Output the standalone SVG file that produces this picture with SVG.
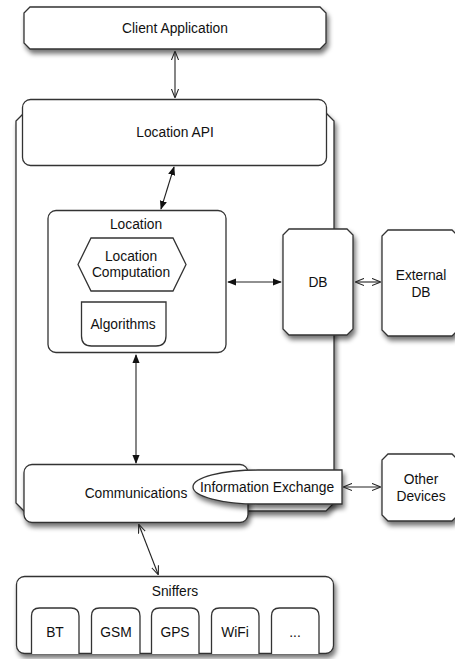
<svg xmlns="http://www.w3.org/2000/svg" width="455" height="659" viewBox="0 0 455 659">
<style>
.s{fill:#fff;stroke:#333;stroke-width:1.3}
.t{font-family:"Liberation Sans",Arial,sans-serif;font-size:13.8px;fill:#111;text-anchor:middle}
.c{fill:none;stroke:#222;stroke-width:1.1}
</style>
<defs>
<filter id="sh" x="-20%" y="-20%" width="140%" height="150%">
<feGaussianBlur in="SourceAlpha" stdDeviation="2.5"/>
<feOffset dx="2" dy="4" result="b"/>
<feComponentTransfer><feFuncA type="linear" slope="0.55"/></feComponentTransfer>
<feMerge><feMergeNode/><feMergeNode in="SourceGraphic"/></feMerge>
</filter>
<marker id="fa" viewBox="0 0 10 10" refX="9" refY="5" markerWidth="9" markerHeight="9" orient="auto-start-reverse" markerUnits="userSpaceOnUse">
<path d="M0,1 L10,5 L0,9 Z" fill="#111"/>
</marker>
<marker id="oa" viewBox="0 0 10 10" refX="9" refY="5" markerWidth="9" markerHeight="9" orient="auto-start-reverse" markerUnits="userSpaceOnUse">
<path d="M0,1 L10,5 L0,9" fill="none" stroke="#222" stroke-width="1.2"/>
</marker>
</defs>

<g id="client-application">
<path class="s" filter="url(#sh)" d="M30,7 H320 L326,13 V43 L320,49 H30 L24,43 V13 Z"/>
<text class="t" x="175" y="33">Client Application</text>
</g>

<g id="container">
<path class="s" filter="url(#sh)" d="M24,113 H326 L334,121 V503 L326,511 H24 L16,503 V121 Z"/>
</g>

<g id="location-api">
<rect class="s" x="22.5" y="99.5" width="304" height="66" rx="8"/>
<text class="t" x="175" y="137">Location API</text>
</g>

<g id="location">
<rect class="s" x="48" y="210.5" width="178" height="142" rx="8"/>
<text class="t" x="136" y="229">Location</text>
</g>

<g id="location-computation">
<path class="s" d="M91,238 H173 L186,264.5 L173,291 H91 L78,264.5 Z"/>
<text class="t" x="131" y="261">Location</text>
<text class="t" x="131" y="277">Computation</text>
</g>

<g id="algorithms">
<path class="s" d="M81.5,302 H166 V336 Q166,346 156,346 H91.5 Q81.5,346 81.5,336 Z"/>
<text class="t" x="123" y="329">Algorithms</text>
</g>

<g id="db">
<path class="s" filter="url(#sh)" d="M289,229 H347 L353,235 V329 L347,335 H289 L283,329 V235 Z"/>
<text class="t" x="318" y="287">DB</text>
</g>

<g id="external-db">
<path class="s" filter="url(#sh)" d="M388,230 H452 L458,236 V330 L452,336 H388 L382,330 V236 Z"/>
<text class="t" x="421" y="280">External</text>
<text class="t" x="421" y="297">DB</text>
</g>

<g id="communications">
<rect class="s" filter="url(#sh)" x="24" y="464.5" width="224" height="58" rx="8"/>
<text class="t" x="136" y="498">Communications</text>
</g>

<g id="information-exchange">
<path class="s" filter="url(#sh)" d="M342,470 V504 H258 A65,17 0 0 1 258,470 Z"/>
<text class="t" x="267" y="492">Information Exchange</text>
</g>

<g id="other-devices">
<path class="s" filter="url(#sh)" d="M388,454 H452 L458,460 V515 L452,521 H388 L382,515 V460 Z"/>
<text class="t" x="421" y="484">Other</text>
<text class="t" x="421" y="501">Devices</text>
</g>

<g id="sniffers">
<rect class="s" filter="url(#sh)" x="16.5" y="576.5" width="317" height="77" rx="8"/>
<text class="t" x="175" y="596">Sniffers</text>
</g>
<g id="bt">
<path class="s" d="M31.5,654 V616 Q31.5,608 39.5,608 H71 Q79,608 79,616 V654"/>
<text class="t" x="55" y="637">BT</text>
</g>
<g id="gsm">
<path class="s" d="M91.5,654 V616 Q91.5,608 99.5,608 H132 Q140,608 140,616 V654"/>
<text class="t" x="116" y="637">GSM</text>
</g>
<g id="gps">
<path class="s" d="M151.5,654 V616 Q151.5,608 159.5,608 H191 Q199,608 199,616 V654"/>
<text class="t" x="175" y="637">GPS</text>
</g>
<g id="wifi">
<path class="s" d="M211.5,654 V616 Q211.5,608 219.5,608 H251 Q259,608 259,616 V654"/>
<text class="t" x="235" y="637">WiFi</text>
</g>
<g id="more">
<path class="s" d="M271.5,654 V616 Q271.5,608 279.5,608 H311 Q319,608 319,616 V654"/>
<text class="t" x="295" y="637">...</text>
</g>

<g id="connectors">
<line class="c" x1="175" y1="52" x2="175" y2="97" marker-start="url(#oa)" marker-end="url(#oa)"/>
<line class="c" x1="174" y1="167" x2="161" y2="209" marker-start="url(#fa)" marker-end="url(#fa)"/>
<line class="c" x1="228" y1="282" x2="281" y2="282" marker-start="url(#fa)" marker-end="url(#fa)"/>
<line class="c" x1="356" y1="282" x2="380" y2="282" marker-start="url(#oa)" marker-end="url(#oa)"/>
<line class="c" x1="136" y1="355" x2="136" y2="463" marker-start="url(#fa)" marker-end="url(#fa)"/>
<line class="c" x1="344" y1="487" x2="380" y2="487" marker-start="url(#oa)" marker-end="url(#oa)"/>
<line class="c" x1="139" y1="525" x2="158" y2="574" marker-start="url(#oa)" marker-end="url(#oa)"/>
</g>
</svg>
